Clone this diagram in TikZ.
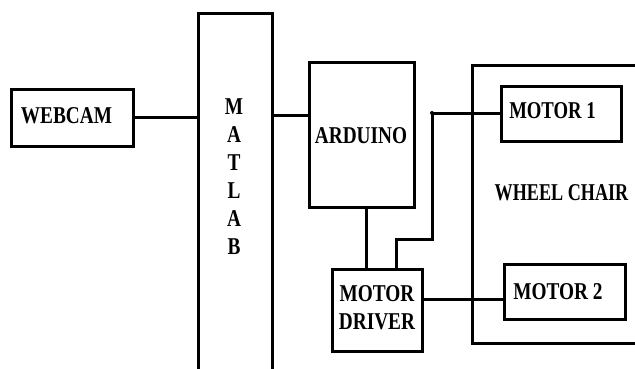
\documentclass[tikz,border=0pt]{standalone}
\usepackage{fontspec}
\setmainfont{Liberation Serif}
\newcommand\stx[1]{\scalebox{1}[1.25]{#1}}
\begin{document}
\begin{tikzpicture}[x=1pt,y=-1pt,
  blk/.style={draw=black,line width=3pt,inner sep=0pt,outer sep=0pt},
  txt/.style={inner sep=0pt,font=\fontsize{19.3}{22.5}\selectfont\bfseries},
  wire/.style={line width=3pt}]
\useasboundingbox (0,0) rectangle (635,369);
\clip (-2,-2) rectangle (637,371);
% boxes
\node[blk,minimum width=122pt,minimum height=56pt] (webcam) at (72,118) {};
\node[blk,minimum width=74pt,minimum height=400pt] (matlab) at (235,214) {};
\node[blk,minimum width=105pt,minimum height=144pt] (arduino) at (361.5,135) {};
\node[blk,minimum width=90pt,minimum height=82pt] (driver) at (377,310) {};
\node[blk,minimum width=170pt,minimum height=277pt] (wheel) at (557,204.5) {};
\node[blk,minimum width=120pt,minimum height=54pt] (motor1) at (561,114) {};
\node[blk,minimum width=121pt,minimum height=55pt] (motor2) at (564.5,291.5) {};
% texts
\node[txt] (webcamtxt) at (66.5,116) {\stx{WEBCAM}};
\node[txt] (matlabtxt) at (234,179) {\stx{\begin{tabular}{@{}c@{}}M\\A\\T\\L\\A\\B\end{tabular}}};
\node[txt] (arduinotxt) at (361,136) {\stx{ARDUINO}};
\node[txt] (drivertxt) at (377,309.5) {\stx{\begin{tabular}{@{}c@{}}MOTOR\\DRIVER\end{tabular}}};
\node[txt] (wheeltxt) at (561.5,193) {\scalebox{0.94}[1.25]{WHEEL CHAIR}};
\node[txt] (motor1txt) at (552.5,111) {\scalebox{0.97}[1.25]{MOTOR 1}};
\node[txt] (motor2txt) at (558,292) {\stx{MOTOR 2}};
% helper coordinates
\coordinate (r0) at (0,117);
\coordinate (r1) at (0,115);
\coordinate (r2) at (0,299);
\coordinate (c0) at (366,0);
\coordinate (j1) at (396,239);
\coordinate (j2) at (432,113);
% connectors
\draw[wire] (r0 -| webcam.east) -- (r0 -| matlab.west);
\draw[wire] (r1 -| matlab.east) -- (r1 -| arduino.west);
\draw[wire] (c0 |- arduino.south) -- (c0 |- driver.north);
\draw[wire] (j1 |- driver.north) -- (j1) -- (j1 -| j2) -- (j2) -- (j2 -| motor1.west);
\fill (j2) circle (2pt);
\draw[wire] (r2 -| driver.east) -- (r2 -| motor2.west);
\end{tikzpicture}
\end{document}
